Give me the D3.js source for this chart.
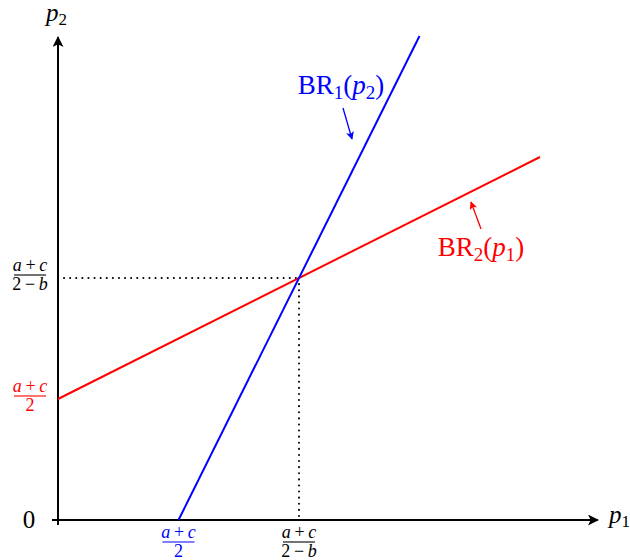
<!DOCTYPE html>
<html>
<head>
<meta charset="utf-8">
<script src="https://cdn.jsdelivr.net/npm/d3@7"></script>
<style>
  html, body { margin: 0; padding: 0; background: #fff; }
  svg { display: block; }
  svg text { font-family: "Liberation Serif"; }
</style>
</head>
<body>
<svg id="chart" width="630" height="560"></svg>
<script>
// Model with a + c = 2 and b = 1, so (a+c)/2 = 1 and (a+c)/(2-b) = 2
const ticksX = [
  { v: 1, num: "a+c", den: "2", color: "#0000ff" },
  { v: 2, num: "a+c", den: "2−b", color: "#000" }
];
const ticksY = [
  { v: 1, num: "a+c", den: "2", color: "#ff0000" },
  { v: 2, num: "a+c", den: "2−b", color: "#000" }
];
// BR1(p2): p1 = 1 + p2/2
const br1 = [{ p1: 1, p2: 0 }, { p1: 3, p2: 4 }];
// BR2(p1): p2 = 1 + p1/2
const br2 = [{ p1: 0, p2: 1 }, { p1: 4, p2: 3 }];
const eq = { p1: 2, p2: 2 };
const axisMax = { p1: 4.48, p2: 3.99 };

const svg = d3.select("#chart");
const x = d3.scaleLinear().domain([0, 4]).range([58, 540]);
const y = d3.scaleLinear().domain([0, 4]).range([520, 36]);

const defs = svg.append("defs");
function marker(id, color, w, h) {
  defs.append("marker")
    .attr("id", id)
    .attr("viewBox", "0 0 10 10")
    .attr("refX", 9).attr("refY", 5)
    .attr("markerWidth", w).attr("markerHeight", h)
    .attr("markerUnits", "userSpaceOnUse")
    .attr("orient", "auto")
    .append("path")
    .attr("d", "M0,0 L10,5 L0,10 L2.5,5 Z")
    .attr("fill", color);
}
marker("arrAxis", "#000", 14, 11);
marker("arrBlue", "#0000ff", 10, 8);
marker("arrRed", "#ff0000", 10, 8);

// axes
svg.append("line")
  .attr("x1", x(0) - 6).attr("y1", y(0))
  .attr("x2", x(axisMax.p1)).attr("y2", y(0))
  .attr("stroke", "#000").attr("stroke-width", 2)
  .attr("marker-end", "url(#arrAxis)");
svg.append("line")
  .attr("x1", x(0)).attr("y1", y(0) + 5)
  .attr("x2", x(0)).attr("y2", y(axisMax.p2))
  .attr("stroke", "#000").attr("stroke-width", 2)
  .attr("marker-end", "url(#arrAxis)");

// dotted guides to the equilibrium
const dot = { stroke: "#000", "stroke-width": 2, "stroke-dasharray": "0.1 6", "stroke-linecap": "round" };
function applyAttrs(sel, o) { Object.entries(o).forEach(([k, v]) => sel.attr(k, v)); return sel; }
applyAttrs(svg.append("line")
  .attr("x1", x(0) + 6).attr("y1", y(eq.p2))
  .attr("x2", x(eq.p1)).attr("y2", y(eq.p2)), dot);
applyAttrs(svg.append("line")
  .attr("x1", x(eq.p1)).attr("y1", y(eq.p2))
  .attr("x2", x(eq.p1)).attr("y2", y(0) - 4), dot);

// best-response lines
const line = d3.line().x(d => x(d.p1)).y(d => y(d.p2));
svg.append("path").datum(br2).attr("d", line)
  .attr("fill", "none").attr("stroke", "#ff0000").attr("stroke-width", 2);
svg.append("path").datum(br1).attr("d", line)
  .attr("fill", "none").attr("stroke", "#0000ff").attr("stroke-width", 2);

// fraction labels
function fraction(cx, cy, t) {
  const g = svg.append("g").attr("fill", t.color);
  const numT = g.append("text").attr("x", cx).attr("y", cy - 4)
    .attr("text-anchor", "middle").attr("font-size", 18);
  numT.append("tspan").attr("font-style", "italic").text("a");
  numT.append("tspan").text("\u2009+\u2009");
  numT.append("tspan").attr("font-style", "italic").text("c");
  const denT = g.append("text").attr("x", cx).attr("y", cy + 15)
    .attr("text-anchor", "middle").attr("font-size", 18);
  if (t.den === "2") {
    denT.text("2");
  } else {
    denT.append("tspan").text("2\u2009−\u2009");
    denT.append("tspan").attr("font-style", "italic").text("b");
  }
  g.append("line").attr("x1", cx - 16).attr("x2", cx + 16)
    .attr("y1", cy).attr("y2", cy)
    .attr("stroke", t.color).attr("stroke-width", 1.1);
}
ticksX.forEach(t => fraction(x(t.v), 542, t));
ticksY.forEach(t => fraction(30, y(t.v) - 3, t));

// origin label
svg.append("text").attr("x", 29).attr("y", y(0) + 8)
  .attr("text-anchor", "middle").attr("font-size", 25).text("0");

// axis titles
function pLabel(px, py, sub, color, anchor) {
  const t = svg.append("text").attr("x", px).attr("y", py)
    .attr("font-size", 25).attr("fill", color).attr("text-anchor", anchor || "start");
  t.append("tspan").attr("font-style", "italic").text("p");
  t.append("tspan").attr("font-size", 17).attr("dy", 4).text(sub);
  return t;
}
pLabel(46, 21, "2", "#000");
pLabel(609, 523, "1", "#000");

// best-response annotations
function brLabel(px, py, sub, arg, color) {
  const t = svg.append("text").attr("x", px).attr("y", py)
    .attr("font-size", 27).attr("fill", color).attr("text-anchor", "middle");
  t.append("tspan").text("BR");
  t.append("tspan").attr("font-size", 19).attr("dy", 5).text(sub);
  t.append("tspan").attr("dy", -5).text("(");
  t.append("tspan").attr("font-style", "italic").text("p");
  t.append("tspan").attr("font-size", 19).attr("dy", 5).text(arg);
  t.append("tspan").attr("dy", -5).text(")");
}
brLabel(341, 94, "1", "2", "#0000ff");
brLabel(481, 256, "2", "1", "#ff0000");

svg.append("line").attr("x1", 343).attr("y1", 108).attr("x2", 352).attr("y2", 139)
  .attr("stroke", "#0000ff").attr("stroke-width", 1.3).attr("marker-end", "url(#arrBlue)");
svg.append("line").attr("x1", 481).attr("y1", 229).attr("x2", 471).attr("y2", 202)
  .attr("stroke", "#ff0000").attr("stroke-width", 1.3).attr("marker-end", "url(#arrRed)");
</script>
</body>
</html>
